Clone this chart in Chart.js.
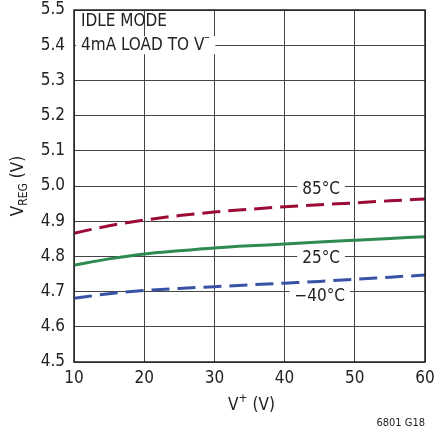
<!DOCTYPE html>
<html><head><meta charset="utf-8">
<script src="https://cdn.jsdelivr.net/npm/chart.js@4"></script>
<style>html,body{margin:0;padding:0;background:#fff}#wrap{width:435px;height:433px}</style>
</head><body><div id="wrap"><canvas id="c" width="435" height="433"></canvas></div>
<script>
const vPlus = [10, 15, 20, 25, 30, 35, 40, 45, 50, 55, 60];
const t85 = [4.866, 4.887, 4.903, 4.916, 4.926, 4.934, 4.941, 4.947, 4.952, 4.958, 4.963];
const t25 = [4.775, 4.793, 4.807, 4.816, 4.824, 4.830, 4.835, 4.841, 4.846, 4.851, 4.856];
const tm40 = [4.681, 4.694, 4.703, 4.709, 4.714, 4.719, 4.724, 4.729, 4.735, 4.741, 4.747];
const xTicks = [10, 20, 30, 40, 50, 60];
const yTicks = [4.5, 4.6, 4.7, 4.8, 4.9, 5.0, 5.1, 5.2, 5.3, 5.4, 5.5];
const seriesLabels = ['85°C', '25°C', '−40°C'];
const labelAnchors = [[45.2, 4.991], [45.2, 4.793], [45.0, 4.685]];

const FONT = "'DejaVu Sans Condensed', 'Liberation Sans', Arial, sans-serif";
const TXT = '#222';

const mk = (arr) => vPlus.map((x, i) => ({x, y: arr[i]}));

const annot = {
  id: 'annot',
  afterDatasetsDraw(chart) {
    const {ctx, scales:{x, y}, chartArea:a} = chart;
    ctx.save();
    ctx.font = '17px ' + FONT;
    ctx.textBaseline = 'middle';
    seriesLabels.forEach((t, i) => {
      const px = x.getPixelForValue(labelAnchors[i][0]);
      const py = y.getPixelForValue(labelAnchors[i][1]);
      const w = ctx.measureText(t).width;
      ctx.fillStyle = '#fff';
      ctx.fillRect(px - w/2 - 5, py - 9, w + 10, 18);
      ctx.fillStyle = TXT;
      ctx.textAlign = 'center';
      ctx.fillText(t, px, py);
    });
    ctx.textAlign = 'left';
    const l1 = 'IDLE MODE', l2 = '4mA LOAD TO V';
    const w2 = ctx.measureText(l2).width;
    const y2 = y.getPixelForValue(5.4);
    ctx.fillStyle = '#fff';
    ctx.fillRect(a.left + 2, y2 - 9, w2 + 16, 18);
    ctx.fillStyle = TXT;
    ctx.fillText(l1, a.left + 7, a.top + 12);
    ctx.fillText(l2, a.left + 7, y2);
    ctx.font = '12px ' + FONT;
    ctx.fillText('–', a.left + 7 + w2, y2 - 7);
    ctx.font = '17px ' + FONT;
    const cx = (a.left + a.right) / 2;
    const p1 = 'V', p3 = ' (V)';
    ctx.font = '17px ' + FONT; const wv = ctx.measureText(p1).width;
    ctx.font = '12px ' + FONT; const wp = ctx.measureText('+').width;
    ctx.font = '17px ' + FONT; const wr = ctx.measureText(p3).width;
    let sx = cx - (wv + wp + wr) / 2 + 2;
    const ty = 406;
    ctx.fillText(p1, sx, ty);
    ctx.font = '12px ' + FONT; ctx.fillText('+', sx + wv, ty - 7);
    ctx.font = '17px ' + FONT; ctx.fillText(p3, sx + wv + wp, ty);
    ctx.save();
    ctx.translate(19, (a.top + a.bottom) / 2);
    ctx.rotate(-Math.PI / 2);
    const q1 = 'V', q2 = 'REG', q3 = ' (V)';
    ctx.font = '17px ' + FONT; const wq1 = ctx.measureText(q1).width; const wq3 = ctx.measureText(q3).width;
    ctx.font = '12px ' + FONT; const wq2 = ctx.measureText(q2).width;
    let qx = -(wq1 + wq2 + wq3) / 2;
    ctx.textAlign = 'left';
    ctx.font = '17px ' + FONT; ctx.fillText(q1, qx, 0);
    ctx.font = '12px ' + FONT; ctx.fillText(q2, qx + wq1, 5);
    ctx.font = '17px ' + FONT; ctx.fillText(q3, qx + wq1 + wq2, 0);
    ctx.restore();
    ctx.font = '11px ' + FONT;
    ctx.textAlign = 'right';
    ctx.fillText('6801 G18', 425, 423);
    ctx.strokeStyle = '#222';
    ctx.lineWidth = 1.5;
    ctx.strokeRect(a.left, a.top, a.right - a.left, a.bottom - a.top);
    ctx.restore();
  }
};

new Chart(document.getElementById('c'), {
  type: 'line',
  data: {
    datasets: [
      {label: '85°C', data: mk(t85), borderColor: '#9b0b35', borderWidth: 3, borderDash: [18, 8], pointRadius: 0, cubicInterpolationMode: 'monotone', fill: false},
      {label: '25°C', data: mk(t25), borderColor: '#2e8b50', borderWidth: 3, pointRadius: 0, cubicInterpolationMode: 'monotone', fill: false},
      {label: '−40°C', data: mk(tm40), borderColor: '#3853a5', borderWidth: 3, borderDash: [18, 8], pointRadius: 0, cubicInterpolationMode: 'monotone', fill: false}
    ]
  },
  options: {
    responsive: false,
    animation: false,
    layout: {padding: {top: 10, right: 10, left: 0, bottom: 0}},
    plugins: {legend: {display: false}, tooltip: {enabled: false}},
    scales: {
      x: {
        type: 'linear', min: 10, max: 60,
        afterBuildTicks: (s) => { s.ticks = xTicks.map(v => ({value: v})); },
        afterFit: (s) => { s.height = 71; s.paddingRight = 0; s.paddingLeft = 0; },
        grid: {color: '#444', lineWidth: 1, drawTicks: false},
        border: {display: false},
        ticks: {color: TXT, font: {family: FONT, size: 17}, padding: 6, maxRotation: 0}
      },
      y: {
        type: 'linear', min: 4.5, max: 5.5,
        afterBuildTicks: (s) => { s.ticks = yTicks.map(v => ({value: v})); },
        afterFit: (s) => { s.width = 74; s.paddingTop = 0; s.paddingBottom = 0; },
        grid: {color: '#444', lineWidth: 1, drawTicks: false},
        border: {display: false},
        ticks: {color: TXT, font: {family: FONT, size: 17}, padding: 9, callback: (v) => v.toFixed(1)}
      }
    }
  },
  plugins: [annot]
});
</script></body></html>
